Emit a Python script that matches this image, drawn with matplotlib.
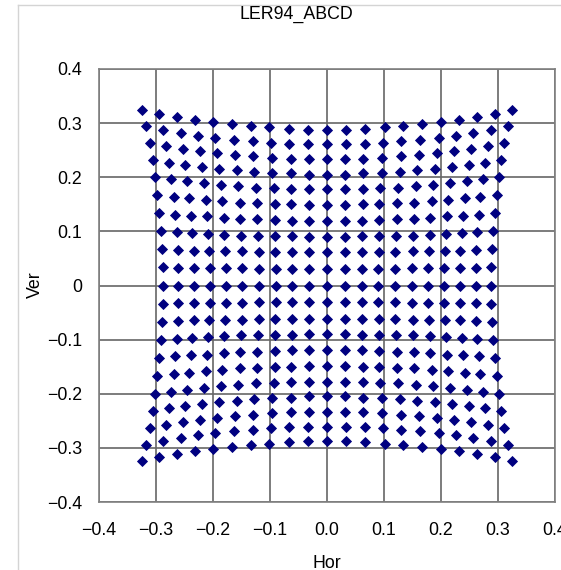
import numpy as np
import matplotlib
matplotlib.use("Agg")
import matplotlib.pyplot as plt
from matplotlib.lines import Line2D

# point positions, one list per grid row (top to bottom)
hor_rows = [
    [-0.325, -0.294, -0.263, -0.232, -0.200, -0.167, -0.134, -0.101, -0.067, -0.034, 0.0, 0.034, 0.067, 0.101, 0.134, 0.167, 0.200, 0.232, 0.263, 0.294, 0.325],
    [-0.317, -0.288, -0.257, -0.227, -0.196, -0.164, -0.130, -0.098, -0.066, -0.033, 0.0, 0.033, 0.066, 0.098, 0.130, 0.164, 0.196, 0.227, 0.257, 0.288, 0.317],
    [-0.311, -0.282, -0.252, -0.223, -0.193, -0.161, -0.129, -0.097, -0.064, -0.032, 0.0, 0.032, 0.064, 0.097, 0.129, 0.161, 0.193, 0.223, 0.252, 0.282, 0.311],
    [-0.306, -0.277, -0.249, -0.219, -0.189, -0.158, -0.128, -0.096, -0.064, -0.032, 0.0, 0.032, 0.064, 0.096, 0.128, 0.158, 0.189, 0.219, 0.249, 0.277, 0.306],
    [-0.302, -0.273, -0.245, -0.215, -0.186, -0.156, -0.125, -0.093, -0.063, -0.032, 0.0, 0.032, 0.063, 0.093, 0.125, 0.156, 0.186, 0.215, 0.245, 0.273, 0.302],
    [-0.298, -0.269, -0.242, -0.213, -0.184, -0.153, -0.123, -0.092, -0.063, -0.032, 0.0, 0.032, 0.063, 0.092, 0.123, 0.153, 0.184, 0.213, 0.242, 0.269, 0.298],
    [-0.294, -0.267, -0.239, -0.210, -0.181, -0.152, -0.122, -0.092, -0.062, -0.031, 0.0, 0.031, 0.062, 0.092, 0.122, 0.152, 0.181, 0.210, 0.239, 0.267, 0.294],
    [-0.292, -0.264, -0.236, -0.208, -0.180, -0.151, -0.121, -0.091, -0.062, -0.031, 0.0, 0.031, 0.062, 0.091, 0.121, 0.151, 0.180, 0.208, 0.236, 0.264, 0.292],
    [-0.289, -0.262, -0.234, -0.207, -0.179, -0.150, -0.120, -0.091, -0.061, -0.031, 0.0, 0.031, 0.061, 0.091, 0.120, 0.150, 0.179, 0.207, 0.234, 0.262, 0.289],
    [-0.287, -0.261, -0.233, -0.205, -0.178, -0.149, -0.119, -0.090, -0.061, -0.031, 0.0, 0.031, 0.061, 0.090, 0.119, 0.149, 0.178, 0.205, 0.233, 0.261, 0.287],
    [-0.287, -0.261, -0.233, -0.205, -0.178, -0.149, -0.119, -0.090, -0.061, -0.031, 0.0, 0.031, 0.061, 0.090, 0.119, 0.149, 0.178, 0.205, 0.233, 0.261, 0.287],
    [-0.287, -0.261, -0.233, -0.205, -0.178, -0.149, -0.119, -0.090, -0.061, -0.031, 0.0, 0.031, 0.061, 0.090, 0.119, 0.149, 0.178, 0.205, 0.233, 0.261, 0.287],
    [-0.289, -0.262, -0.234, -0.207, -0.179, -0.150, -0.120, -0.091, -0.061, -0.031, 0.0, 0.031, 0.061, 0.091, 0.120, 0.150, 0.179, 0.207, 0.234, 0.262, 0.289],
    [-0.292, -0.264, -0.236, -0.208, -0.180, -0.151, -0.121, -0.091, -0.062, -0.031, 0.0, 0.031, 0.062, 0.091, 0.121, 0.151, 0.180, 0.208, 0.236, 0.264, 0.292],
    [-0.294, -0.267, -0.239, -0.210, -0.181, -0.152, -0.122, -0.092, -0.062, -0.031, 0.0, 0.031, 0.062, 0.092, 0.122, 0.152, 0.181, 0.210, 0.239, 0.267, 0.294],
    [-0.298, -0.269, -0.242, -0.213, -0.184, -0.153, -0.123, -0.092, -0.063, -0.032, 0.0, 0.032, 0.063, 0.092, 0.123, 0.153, 0.184, 0.213, 0.242, 0.269, 0.298],
    [-0.302, -0.273, -0.245, -0.215, -0.186, -0.156, -0.125, -0.093, -0.063, -0.032, 0.0, 0.032, 0.063, 0.093, 0.125, 0.156, 0.186, 0.215, 0.245, 0.273, 0.302],
    [-0.306, -0.277, -0.249, -0.219, -0.189, -0.158, -0.128, -0.096, -0.064, -0.032, 0.0, 0.032, 0.064, 0.096, 0.128, 0.158, 0.189, 0.219, 0.249, 0.277, 0.306],
    [-0.311, -0.282, -0.252, -0.223, -0.193, -0.161, -0.129, -0.097, -0.064, -0.032, 0.0, 0.032, 0.064, 0.097, 0.129, 0.161, 0.193, 0.223, 0.252, 0.282, 0.311],
    [-0.317, -0.288, -0.257, -0.227, -0.196, -0.164, -0.130, -0.098, -0.066, -0.033, 0.0, 0.033, 0.066, 0.098, 0.130, 0.164, 0.196, 0.227, 0.257, 0.288, 0.317],
    [-0.325, -0.294, -0.263, -0.232, -0.200, -0.167, -0.134, -0.101, -0.067, -0.034, 0.0, 0.034, 0.067, 0.101, 0.134, 0.167, 0.200, 0.232, 0.263, 0.294, 0.325],
]

ver_rows = [
    [0.325, 0.317, 0.311, 0.306, 0.302, 0.298, 0.294, 0.292, 0.289, 0.287, 0.287, 0.287, 0.289, 0.292, 0.294, 0.298, 0.302, 0.306, 0.311, 0.317, 0.325],
    [0.294, 0.288, 0.282, 0.277, 0.273, 0.269, 0.267, 0.264, 0.262, 0.261, 0.261, 0.261, 0.262, 0.264, 0.267, 0.269, 0.273, 0.277, 0.282, 0.288, 0.294],
    [0.263, 0.257, 0.252, 0.249, 0.245, 0.242, 0.239, 0.236, 0.234, 0.233, 0.233, 0.233, 0.234, 0.236, 0.239, 0.242, 0.245, 0.249, 0.252, 0.257, 0.263],
    [0.232, 0.227, 0.223, 0.219, 0.215, 0.213, 0.210, 0.208, 0.207, 0.205, 0.205, 0.205, 0.207, 0.208, 0.210, 0.213, 0.215, 0.219, 0.223, 0.227, 0.232],
    [0.200, 0.196, 0.193, 0.189, 0.186, 0.184, 0.181, 0.180, 0.179, 0.178, 0.178, 0.178, 0.179, 0.180, 0.181, 0.184, 0.186, 0.189, 0.193, 0.196, 0.200],
    [0.167, 0.164, 0.161, 0.158, 0.156, 0.153, 0.152, 0.151, 0.150, 0.149, 0.149, 0.149, 0.150, 0.151, 0.152, 0.153, 0.156, 0.158, 0.161, 0.164, 0.167],
    [0.134, 0.130, 0.129, 0.128, 0.125, 0.123, 0.122, 0.121, 0.120, 0.119, 0.119, 0.119, 0.120, 0.121, 0.122, 0.123, 0.125, 0.128, 0.129, 0.130, 0.134],
    [0.101, 0.098, 0.097, 0.096, 0.093, 0.092, 0.092, 0.091, 0.091, 0.090, 0.090, 0.090, 0.091, 0.091, 0.092, 0.092, 0.093, 0.096, 0.097, 0.098, 0.101],
    [0.067, 0.066, 0.064, 0.064, 0.063, 0.063, 0.062, 0.062, 0.061, 0.061, 0.061, 0.061, 0.061, 0.062, 0.062, 0.063, 0.063, 0.064, 0.064, 0.066, 0.067],
    [0.034, 0.033, 0.032, 0.032, 0.032, 0.032, 0.031, 0.031, 0.031, 0.031, 0.031, 0.031, 0.031, 0.031, 0.031, 0.032, 0.032, 0.032, 0.032, 0.033, 0.034],
    [0.0, 0.0, 0.0, 0.0, 0.0, 0.0, 0.0, 0.0, 0.0, 0.0, 0.0, 0.0, 0.0, 0.0, 0.0, 0.0, 0.0, 0.0, 0.0, 0.0, 0.0],
    [-0.034, -0.033, -0.032, -0.032, -0.032, -0.032, -0.031, -0.031, -0.031, -0.031, -0.031, -0.031, -0.031, -0.031, -0.031, -0.032, -0.032, -0.032, -0.032, -0.033, -0.034],
    [-0.067, -0.066, -0.064, -0.064, -0.063, -0.063, -0.062, -0.062, -0.061, -0.061, -0.061, -0.061, -0.061, -0.062, -0.062, -0.063, -0.063, -0.064, -0.064, -0.066, -0.067],
    [-0.101, -0.098, -0.097, -0.096, -0.093, -0.092, -0.092, -0.091, -0.091, -0.090, -0.090, -0.090, -0.091, -0.091, -0.092, -0.092, -0.093, -0.096, -0.097, -0.098, -0.101],
    [-0.134, -0.130, -0.129, -0.128, -0.125, -0.123, -0.122, -0.121, -0.120, -0.119, -0.119, -0.119, -0.120, -0.121, -0.122, -0.123, -0.125, -0.128, -0.129, -0.130, -0.134],
    [-0.167, -0.164, -0.161, -0.158, -0.156, -0.153, -0.152, -0.151, -0.150, -0.149, -0.149, -0.149, -0.150, -0.151, -0.152, -0.153, -0.156, -0.158, -0.161, -0.164, -0.167],
    [-0.200, -0.196, -0.193, -0.189, -0.186, -0.184, -0.181, -0.180, -0.179, -0.178, -0.178, -0.178, -0.179, -0.180, -0.181, -0.184, -0.186, -0.189, -0.193, -0.196, -0.200],
    [-0.232, -0.227, -0.223, -0.219, -0.215, -0.213, -0.210, -0.208, -0.207, -0.205, -0.205, -0.205, -0.207, -0.208, -0.210, -0.213, -0.215, -0.219, -0.223, -0.227, -0.232],
    [-0.263, -0.257, -0.252, -0.249, -0.245, -0.242, -0.239, -0.236, -0.234, -0.233, -0.233, -0.233, -0.234, -0.236, -0.239, -0.242, -0.245, -0.249, -0.252, -0.257, -0.263],
    [-0.294, -0.288, -0.282, -0.277, -0.273, -0.269, -0.267, -0.264, -0.262, -0.261, -0.261, -0.261, -0.262, -0.264, -0.267, -0.269, -0.273, -0.277, -0.282, -0.288, -0.294],
    [-0.325, -0.317, -0.311, -0.306, -0.302, -0.298, -0.294, -0.292, -0.289, -0.287, -0.287, -0.287, -0.289, -0.292, -0.294, -0.298, -0.302, -0.306, -0.311, -0.317, -0.325],
]

tick_vals = [-0.4, -0.3, -0.2, -0.1, 0.0, 0.1, 0.2, 0.3, 0.4]
x_tick_labels = ["\u22120.4", "\u22120.3", "\u22120.2", "\u22120.1", "0.0", "0.1", "0.2", "0.3", "0.4"]
y_tick_labels = ["\u22120.4", "\u22120.3", "\u22120.2", "\u22120.1", "0", "0.1", "0.2", "0.3", "0.4"]

plt.rcParams['font.family'] = ['Liberation Sans', 'DejaVu Sans']
fs = 12.8
grid_col = '#666666'

fig = plt.figure(figsize=(5.61, 5.70), dpi=100)
ax = fig.add_axes([99 / 561, 68 / 570, 456 / 561, 433 / 570])

xs = np.array(hor_rows).ravel()
ys = np.array(ver_rows).ravel()
ax.plot(xs, ys, linestyle='none', marker='D', ms=4.8, mew=0.6, color='#000080', zorder=3)

ax.set_xlim(-0.4, 0.4)
ax.set_ylim(-0.4, 0.4)
ax.set_xticks(tick_vals)
ax.set_yticks(tick_vals)
ax.set_xticklabels(x_tick_labels, fontsize=fs)
ax.set_yticklabels(y_tick_labels, fontsize=fs)
ax.tick_params(axis='x', length=0, pad=14.5)
ax.tick_params(axis='y', length=0, pad=12)
ax.grid(True, color=grid_col, lw=1.2)
ax.set_axisbelow(True)
for s in ax.spines.values():
    s.set_color('#808080')
    s.set_linewidth(1.2)

# chart area frame (only left/top edges fall inside the picture)
fig.add_artist(Line2D([18 / 561, 18 / 561], [0, 1 - 5 / 570], color='#d4d4d4', lw=1.0))
fig.add_artist(Line2D([18 / 561, 1], [1 - 5 / 570, 1 - 5 / 570], color='#d4d4d4', lw=1.0))

fig.text(296 / 561, 1 - 14 / 570, 'LER94_ABCD', ha='center', va='center', fontsize=fs)
fig.text(35 / 561, 1 - 285 / 570, 'Ver', ha='center', va='center', rotation=90, fontsize=fs)
fig.text(327 / 561, 1 - 563 / 570, 'Hor', ha='center', va='center', fontsize=fs)

fig.savefig('out.png', dpi=100)
